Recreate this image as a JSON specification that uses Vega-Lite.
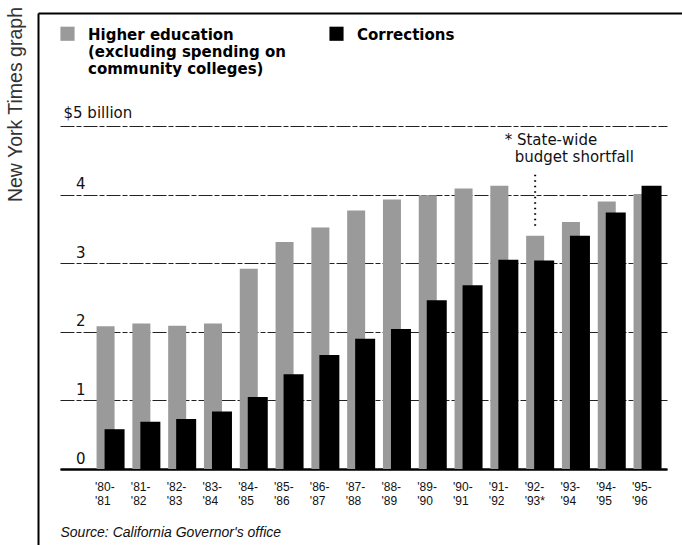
{
  "$schema": "https://vega.github.io/schema/vega-lite/v6.json",
  "width": 607,
  "height": 343,
  "autosize": {"type": "none"},
  "padding": {"left": 60, "top": 126, "right": 15, "bottom": 76},
  "background": "white",
  "config": {"view": {"stroke": null}, "font": "Liberation Sans"},
  "title": {
    "text": "New York Times graph",
    "orient": "left",
    "anchor": "end",
    "frame": "group",
    "fontSize": 19.5,
    "fontWeight": "normal",
    "color": "#333333",
    "font": "Liberation Sans",
    "offset": 9,
    "dx": 119
  },
  "datasets": {
    "spend": [
      {"period": "'80-'81", "series": "Higher education", "value": 2.08},
      {"period": "'81-'82", "series": "Higher education", "value": 2.12},
      {"period": "'82-'83", "series": "Higher education", "value": 2.09},
      {"period": "'83-'84", "series": "Higher education", "value": 2.12},
      {"period": "'84-'85", "series": "Higher education", "value": 2.92},
      {"period": "'85-'86", "series": "Higher education", "value": 3.31},
      {"period": "'86-'87", "series": "Higher education", "value": 3.52},
      {"period": "'87-'88", "series": "Higher education", "value": 3.77},
      {"period": "'88-'89", "series": "Higher education", "value": 3.93},
      {"period": "'89-'90", "series": "Higher education", "value": 3.99},
      {"period": "'90-'91", "series": "Higher education", "value": 4.09},
      {"period": "'91-'92", "series": "Higher education", "value": 4.13},
      {"period": "'92-'93*", "series": "Higher education", "value": 3.40},
      {"period": "'93-'94", "series": "Higher education", "value": 3.60},
      {"period": "'94-'95", "series": "Higher education", "value": 3.90},
      {"period": "'95-'96", "series": "Higher education", "value": 4.01},
      {"period": "'80-'81", "series": "Corrections", "value": 0.58},
      {"period": "'81-'82", "series": "Corrections", "value": 0.69},
      {"period": "'82-'83", "series": "Corrections", "value": 0.73},
      {"period": "'83-'84", "series": "Corrections", "value": 0.84},
      {"period": "'84-'85", "series": "Corrections", "value": 1.05},
      {"period": "'85-'86", "series": "Corrections", "value": 1.38},
      {"period": "'86-'87", "series": "Corrections", "value": 1.66},
      {"period": "'87-'88", "series": "Corrections", "value": 1.90},
      {"period": "'88-'89", "series": "Corrections", "value": 2.04},
      {"period": "'89-'90", "series": "Corrections", "value": 2.46},
      {"period": "'90-'91", "series": "Corrections", "value": 2.68},
      {"period": "'91-'92", "series": "Corrections", "value": 3.05},
      {"period": "'92-'93*", "series": "Corrections", "value": 3.04},
      {"period": "'93-'94", "series": "Corrections", "value": 3.40},
      {"period": "'94-'95", "series": "Corrections", "value": 3.74},
      {"period": "'95-'96", "series": "Corrections", "value": 4.13}
    ]
  },
  "resolve": {
    "scale": {"x": "independent", "y": "independent"},
    "axis": {"x": "independent", "y": "independent"}
  },
  "layer": [
    {
      "data": {"values": [{"a": 0, "b": 0}]},
      "mark": {"type": "point", "opacity": 0},
      "encoding": {
        "x": {
          "field": "a", "type": "quantitative",
          "scale": {"domain": [0, 1], "range": [-22, 622], "nice": false, "zero": false},
          "axis": {"orient": "top", "offset": 113, "domain": true, "domainColor": "#000000", "domainWidth": 2, "ticks": false, "labels": false, "grid": false, "title": null}
        },
        "y": {
          "field": "b", "type": "quantitative",
          "scale": {"domain": [0, 1], "range": [419, -113], "nice": false, "zero": false},
          "axis": {"orient": "left", "offset": 22, "domain": true, "domainColor": "#000000", "domainWidth": 2, "ticks": false, "labels": false, "grid": false, "title": null}
        }
      }
    },
    {
      "data": {"name": "spend"},
      "encoding": {
        "x": {
          "field": "period", "type": "nominal", "sort": null,
          "scale": {"type": "band", "paddingInner": 0, "paddingOuter": 0.478, "align": 0.94},
          "axis": {
            "orient": "bottom",
            "title": "Source: California Governor's office",
            "titleFont": "Liberation Sans",
            "titleFontStyle": "italic",
            "titleFontWeight": "normal",
            "titleFontSize": 14,
            "titleColor": "#111111",
            "titleAnchor": "start",
            "titleAlign": "left",
            "titleBaseline": "alphabetic",
            "titleX": 0,
            "titleY": 67,
            "labelExpr": "[substring(datum.label, 0, 4), substring(datum.label, 4)]",
            "labelAlign": "left",
            "labelOffset": -15,
            "labelPadding": 12,
            "labelBaseline": "top",
            "labelFontSize": 12,
            "labelLineHeight": 14,
            "labelColor": "#111111",
            "labelAngle": 0,
            "ticks": false,
            "tickSize": 0,
            "domainColor": "#000000",
            "domainWidth": 2.5,
            "grid": false
          }
        },
        "y": {
          "field": "value", "type": "quantitative",
          "scale": {"domain": [0, 5], "nice": false, "zero": true},
          "axis": {
            "orient": "left",
            "title": null,
            "values": [0, 1, 2, 3, 4, 5],
            "labelExpr": "datum.value == 5 ? '$5 billion' : datum.label",
            "labelAlign": {"condition": {"test": "datum.value == 5", "value": "left"}, "value": "right"},
            "labelPadding": {"condition": {"test": "datum.value == 5", "value": -3}, "value": -25},
            "labelOffset": {"condition": {"test": "datum.value == 5", "value": -9}, "value": -6},
            "labelBaseline": "alphabetic",
            "labelFont": "DejaVu Sans",
            "labelFontSize": 15,
            "labelColor": "#111111",
            "ticks": false,
            "tickSize": 0,
            "domain": false,
            "grid": true,
            "gridColor": "#222222",
            "gridWidth": 1.2,
            "gridDash": [14, 2, 5, 2]
          }
        }
      },
      "layer": [
        {
          "transform": [{"filter": "datum.series == 'Higher education'"}],
          "mark": {"type": "bar", "width": 18, "xOffset": -4.5},
          "encoding": {
            "color": {
              "field": "series", "type": "nominal",
              "scale": {"domain": ["Higher education", "Corrections"], "range": ["#9a9a9a", "#000000"]},
              "legend": {
                "title": null,
                "orient": "none",
                "legendX": 0,
                "legendY": -100,
                "direction": "horizontal",
                "columns": 2,
                "padding": 0,
                "symbolType": "square",
                "symbolSize": 200,
                "symbolStrokeWidth": 0,
                "symbolOpacity": 1,
                "labelFont": "DejaVu Sans",
                "labelFontSize": 15,
                "labelFontWeight": "bold",
                "labelColor": "#000000",
                "labelLimit": 400,
                "labelOffset": 13,
                "labelBaseline": "top",
                "columnPadding": 43,
                "labelExpr": "datum.label == 'Higher education' ? ['Higher education', '(excluding spending on', 'community colleges)'] : ['Corrections', ' ', ' ']",
                "encode": {"labels": {"update": {"dy": {"value": -6}}}}
              }
            }
          }
        },
        {
          "transform": [{"filter": "datum.series == 'Corrections'"}],
          "mark": {"type": "bar", "width": 20, "xOffset": 4.5},
          "encoding": {
            "color": {"field": "series", "type": "nominal"}
          }
        },
        {
          "data": {"values": [{"period": "'92-'93*", "top": 4.29, "bottom": 3.5}]},
          "mark": {"type": "rule", "strokeDash": [1.5, 4], "strokeWidth": 2, "xOffset": -4.5, "color": "#000000"},
          "encoding": {
            "x": {"field": "period", "type": "nominal"},
            "y": {"field": "top", "type": "quantitative"},
            "y2": {"field": "bottom"}
          }
        },
        {
          "data": {"values": [{"period": "'92-'93*", "pos": 4.73, "note": "* State-wide"}]},
          "mark": {"type": "text", "align": "left", "baseline": "alphabetic", "dx": -35, "fontSize": 15, "font": "DejaVu Sans", "color": "#111111"},
          "encoding": {
            "x": {"field": "period", "type": "nominal"},
            "y": {"field": "pos", "type": "quantitative"},
            "text": {"field": "note"}
          }
        },
        {
          "data": {"values": [{"period": "'92-'93*", "pos": 4.47, "note": "budget shortfall"}]},
          "mark": {"type": "text", "align": "left", "baseline": "alphabetic", "dx": -25, "fontSize": 15, "font": "DejaVu Sans", "color": "#111111"},
          "encoding": {
            "x": {"field": "period", "type": "nominal"},
            "y": {"field": "pos", "type": "quantitative"},
            "text": {"field": "note"}
          }
        }
      ]
    }
  ]
}
